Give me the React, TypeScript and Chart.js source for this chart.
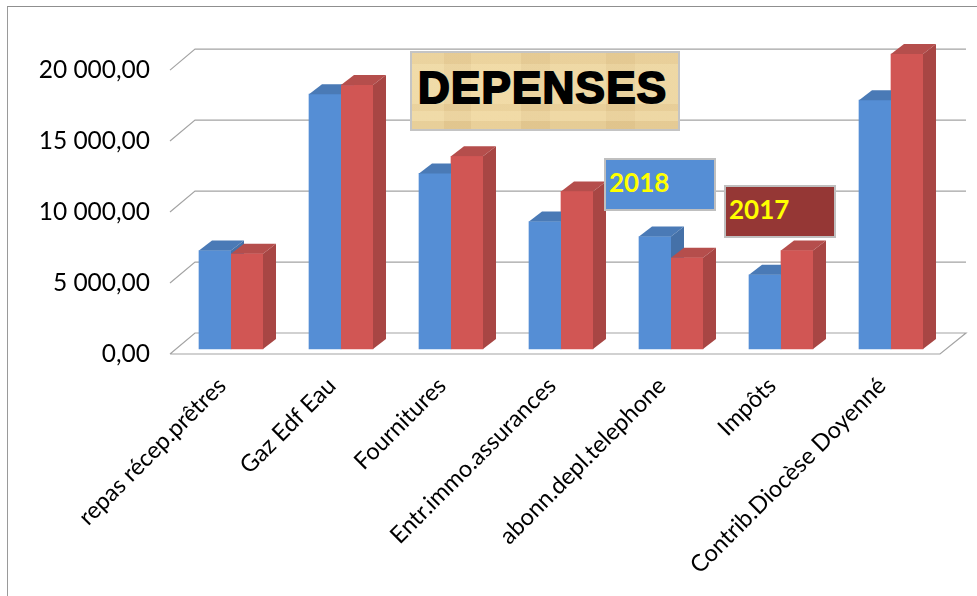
import React, { useEffect, useRef } from "react";
import { Chart, registerables } from "chart.js";

Chart.register(...registerables);

const categories = [
  "repas récep.prêtres",
  "Gaz Edf Eau",
  "Fournitures",
  "Entr.immo.assurances",
  "abonn.depl.telephone",
  "Impôts",
  "Contrib.Diocèse Doyenné",
];
const values2018 = [6930, 17950, 12370, 8980, 7920, 5230, 17530];
const values2017 = [6710, 18590, 13570, 11100, 6430, 6930, 20780];
const axisTicks = [0, 5000, 10000, 15000, 20000];
const title = "DEPENSES";
const label2018 = "2018";
const label2017 = "2017";

const GRID = "#a4a4a4";
const WALL_DX = 25;
const WALL_DY = 21;
const BAR_DX = 13;
const BAR_DY = 10;
const FONT = "Lato, Carlito, 'Open Sans', sans-serif";

const box3d = {
  id: "box3d",
  beforeDatasetsDraw(chart: any) {
    const { ctx, chartArea } = chart;
    const axis = chart.scales.y2;
    const x0 = chartArea.left - 6;
    const x1 = chartArea.right - 6;
    ctx.save();
    ctx.strokeStyle = GRID;
    ctx.lineWidth = 1.2;
    axisTicks.forEach((v) => {
      const py = axis.getPixelForValue(v);
      ctx.beginPath();
      ctx.moveTo(x0, py);
      ctx.lineTo(x0 + WALL_DX, py - WALL_DY);
      ctx.lineTo(x1 + WALL_DX + 1, py - WALL_DY);
      if (v === 0) {
        ctx.lineTo(x1, py);
        ctx.lineTo(x0, py);
      }
      ctx.stroke();
    });
    ctx.restore();
  },
  afterDatasetsDraw(chart: any) {
    const { ctx } = chart;
    ctx.save();
    chart.data.datasets.forEach((ds: any, di: number) => {
      chart.getDatasetMeta(di).data.forEach((bar: any) => {
        const hw = bar.width / 2;
        const l = bar.x - hw;
        const r = bar.x + hw;
        const t = bar.y;
        const b = bar.base;
        ctx.fillStyle = ds.topColor;
        ctx.beginPath();
        ctx.moveTo(l, t);
        ctx.lineTo(l + BAR_DX, t - BAR_DY);
        ctx.lineTo(r + BAR_DX, t - BAR_DY);
        ctx.lineTo(r, t);
        ctx.closePath();
        ctx.fill();
        ctx.fillStyle = ds.sideColor;
        ctx.beginPath();
        ctx.moveTo(r, t);
        ctx.lineTo(r + BAR_DX, t - BAR_DY);
        ctx.lineTo(r + BAR_DX, b - BAR_DY);
        ctx.lineTo(r, b);
        ctx.closePath();
        ctx.fill();
      });
    });
    // the red front faces sit in front of the blue side faces
    chart.getDatasetMeta(1).data.forEach((bar: any) => {
      ctx.fillStyle = chart.data.datasets[1].backgroundColor;
      ctx.fillRect(bar.x - bar.width / 2, bar.y, bar.width, bar.base - bar.y);
    });
    ctx.restore();
  },
};

export default function App() {
  const ref = useRef<HTMLCanvasElement>(null);
  useEffect(() => {
    const chart = new Chart(ref.current!, {
      type: "bar",
      data: {
        labels: categories,
        datasets: [
          {
            label: label2018,
            data: values2018,
            backgroundColor: "#558ed5",
            topColor: "#4a7ab6",
            sideColor: "#4571a8",
            barThickness: 32,
            yAxisID: "y",
          } as any,
          {
            label: label2017,
            data: values2017,
            backgroundColor: "#d15654",
            topColor: "#b54e4c",
            sideColor: "#a84644",
            barThickness: 32,
            yAxisID: "y",
          } as any,
        ],
      },
      options: {
        responsive: false,
        animation: false,
        devicePixelRatio: 1,
        layout: { padding: { left: 0, top: 39, right: 31, bottom: 0 } },
        plugins: { legend: { display: false }, title: { display: false }, tooltip: { enabled: false } },
        scales: {
          x: {
            grid: { display: false },
            border: { display: false },
            ticks: {
              minRotation: 45,
              maxRotation: 45,
              autoSkip: false,
              color: "#000",
              padding: 10,
              labelOffset: -9,
              font: { family: FONT, size: 23.5 },
            },
            afterFit(s: any) {
              s.height = 242;
            },
          },
          y: {
            display: false,
            min: -353,
            max: 21837,
          },
          y2: {
            position: "left",
            min: 0,
            max: 22191,
            grid: { display: false },
            border: { display: false },
            afterBuildTicks(s: any) {
              s.ticks = axisTicks.map((value) => ({ value }));
            },
            ticks: {
              color: "#000",
              padding: 18,
              font: { family: FONT, size: 24.5 },
              callback: (v: any) =>
                Number(v)
                  .toFixed(2)
                  .replace(".", ",")
                  .replace(/\B(?=(\d{3})+(?!\d))/, " "),
            },
            afterFit(s: any) {
              s.width = 176;
            },
          },
        },
      } as any,
      plugins: [box3d],
    });
    return () => chart.destroy();
  }, []);

  const boxText: React.CSSProperties = {
    position: "absolute",
    boxSizing: "border-box",
    border: "2px solid #bfbfbf",
    color: "#ffff00",
    fontFamily: FONT,
    fontWeight: 700,
    fontSize: 26,
    lineHeight: "45px",
    paddingLeft: 3,
    width: 112,
    height: 53,
  };

  return (
    <div style={{ position: "fixed", left: 0, top: 0, width: 977, height: 596, overflow: "hidden", background: "#fff" }}>
      <div style={{ position: "absolute", left: 7, top: 6, right: -2, bottom: -2, borderLeft: "1px solid #9a9a9a", borderTop: "1px solid #8f8f8f" }} />
      <canvas ref={ref} width={977} height={596} style={{ position: "absolute", left: 0, top: 0 }} />
      <div
        style={{
          position: "absolute",
          boxSizing: "border-box",
          left: 410,
          top: 51,
          width: 270,
          height: 80,
          border: "2px solid #c4c4c4",
          background:
            "linear-gradient(90deg, rgba(255,240,190,.18) 0 12%, rgba(190,150,80,.04) 12% 22%, rgba(255,235,180,.22) 22% 41%, rgba(190,150,80,.05) 41% 52%, rgba(255,235,180,.12) 52% 73%, rgba(190,150,80,.07) 73% 84%, rgba(255,235,180,.08) 84% 100%), linear-gradient(0deg, rgba(190,150,80,.18) 0 10%, rgba(255,240,190,.1) 10% 24%, rgba(190,150,80,.12) 24% 33%, rgba(255,240,190,.12) 33% 85%, rgba(200,160,90,.12) 85% 100%), #ebd3a0",
          color: "#000",
          fontFamily: "'Liberation Sans', Arial, sans-serif",
          fontWeight: 700,
          fontSize: 44,
          lineHeight: "69px",
          paddingLeft: 6,
          WebkitTextStroke: "2px #000",
          letterSpacing: 1.2,
          whiteSpace: "nowrap",
        }}
      >
        {title}
      </div>
      <div style={{ ...boxText, left: 604, top: 158, background: "#558ed5" }}>{label2018}</div>
      <div style={{ ...boxText, left: 724, top: 185, background: "#953735" }}>{label2017}</div>
    </div>
  );
}
